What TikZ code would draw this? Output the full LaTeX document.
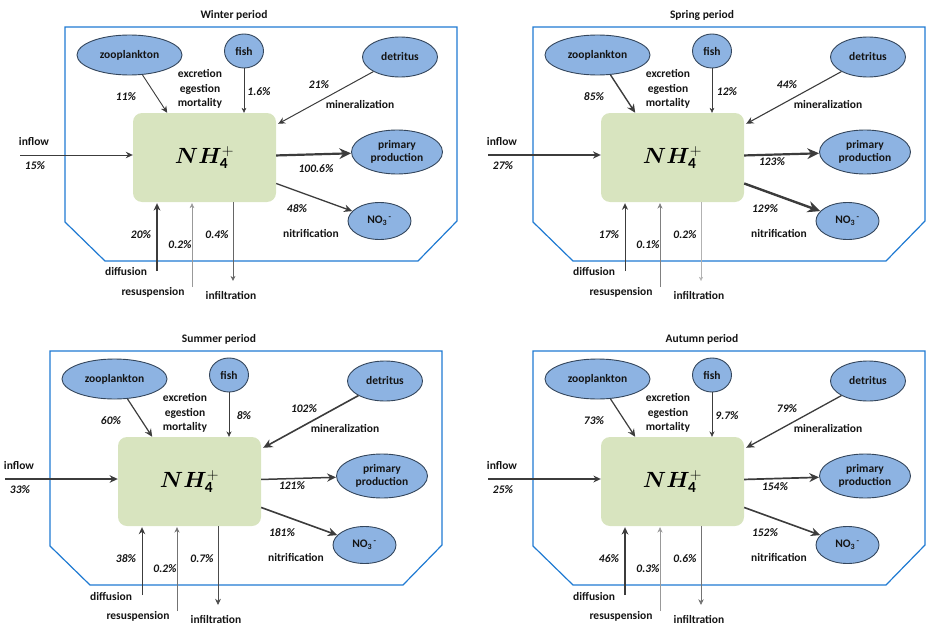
\documentclass[tikz,border=0pt]{standalone}
\usepackage{fix-cm}
\usepackage{fontspec}
\setmainfont{Carlito}
\usepackage{bm}
\usetikzlibrary{arrows.meta,shapes.geometric,calc}
\definecolor{ellfill}{HTML}{8DB3E2}
\definecolor{elldraw}{HTML}{34465C}
\definecolor{boxfill}{HTML}{D8E4BF}
\definecolor{framecol}{HTML}{1F7AD2}
\definecolor{arr}{HTML}{3C3C3C}
\definecolor{txt}{HTML}{141414}
\tikzset{
 compart/.style={ellipse, draw=elldraw, line width=0.9pt, fill=ellfill, inner sep=0pt, text=txt,
   font=\fontsize{11.5}{13}\selectfont\bfseries},
 lbl/.style={font=\fontsize{11.5}{14.5}\selectfont\bfseries, text=txt, inner sep=0pt},
 pct/.style={font=\fontsize{11.5}{14}\selectfont\bfseries\itshape, text=txt, inner sep=0pt},
 flow/.style={draw=arr, -{Stealth[length=3pt 4, width=3pt 3.5]}},
 nhbox/.style={fill=boxfill, rounded corners=9pt, minimum width=143pt, minimum height=89pt, inner sep=0pt},
 framebox/.style={draw=framecol, line width=1.2pt},
}
% values: \vIn \vZoo \vFish \vDet \vPP \vNO \vDif \vRes \vInf ; widths \w.. ; colours \cRes \cInf ; \ppPos
\newcommand\drawpanel[2]{%
 \draw[framebox] (65,27) -- (457,27) -- (457,221) -- (418,261) -- (105,261) -- (65,222) -- cycle;
 \node[lbl] (#1title) at (234,15) {#2};
 \node[nhbox] (#1box) at (204.5,157.5) {\fontsize{22}{24}\selectfont$\bm{NH}_{\mathbf{4}}^{\mathbf{+}}$};
 \node[compart, minimum width=105pt, minimum height=40pt] (#1zoo) at (129.5,55) {zooplankton};
 \node[compart, minimum width=39pt, minimum height=34pt] (#1fish) at (244,51) {fish};
 \node[compart, minimum width=75pt, minimum height=40pt] (#1det) at (400,57) {detritus};
 \node[compart, minimum width=91pt, minimum height=44pt, align=center] (#1pp) at (397,152) {primary\\production};
 \node[compart, minimum width=63pt, minimum height=37pt] (#1no) at (379.5,221) {NO\textsubscript{3}\textsuperscript{\,-}};
 \coordinate (#1zooend) at ($(#1box.north west)!0.24!(#1box.north east)$);
 \coordinate (#1detend) at ($(#1box.north east)+(2,11)$);
 \coordinate (#1in) at (20,155);
 \coordinate (#1dif) at (157,271);
 \coordinate (#1res) at (192,287);
 \coordinate (#1inf) at (233,281);
 \draw[flow, line width=\wZoo] (#1zoo) -- (#1zooend);
 \draw[flow, line width=\wFish] (#1fish) -- (#1fish |- #1box.north);
 \draw[flow, line width=\wDet] (#1det) -- (#1detend);
 \draw[flow, line width=\wPP] (#1box) -- (#1pp);
 \draw[flow, line width=\wNO] (#1box) -- (#1no);
 \draw[flow, line width=\wIn] (#1in) -- (#1in -| #1box.west);
 \draw[flow, line width=\wDif, shorten >=1pt] (#1dif) -- (#1dif |- #1box.south);
 \draw[flow, line width=\wRes, draw=\cRes, shorten >=1pt] (#1res) -- (#1res |- #1box.south);
 \draw[flow, line width=\wInf, draw=\cInf] (#1inf |- #1box.south) -- (#1inf);
 \node[lbl] (#1linflow) at (34,142) {inflow};
 \node[lbl, align=center] (#1lexc) at (200,89) {excretion\\egestion\\mortality};
 \node[lbl] (#1lmin) at (360,104) {mineralization};
 \node[lbl] (#1lnit) at (311,233) {nitrification};
 \node[lbl] (#1ldif) at (126,272) {diffusion};
 \node[lbl] (#1lres) at (153,292) {resuspension};
 \node[lbl] (#1linf) at (231,295) {infiltration};
 \node[pct] (#1pin) at (35,166) {\vIn};
 \node[pct] (#1pzoo) at (126,97) {\vZoo};
 \node[pct] (#1pfish) at (259,92) {\vFish};
 \node[pct] (#1pdet) at (319,85) {\vDet};
 \node[pct] (#1ppp) at \ppPos {\vPP};
 \node[pct] (#1pno) at (297,209) {\vNO};
 \node[pct] (#1pdif) at (141,235) {\vDif};
 \node[pct] (#1pres) at (180,245) {\vRes};
 \node[pct] (#1pinf) at (217,235) {\vInf};
}
\begin{document}
\begin{tikzpicture}[x=1pt,y=-1pt]
\useasboundingbox (0,0) rectangle (929,626);
% Winter
\begin{scope}
 \def\vIn{15\%}\def\vZoo{11\%}\def\vFish{1.6\%}\def\vDet{21\%}\def\vPP{100.6\%}\def\vNO{48\%}
 \def\vDif{20\%}\def\vRes{0.2\%}\def\vInf{0.4\%}\def\ppPos{(316,169)}
 \def\wIn{1pt}\def\wZoo{0.9pt}\def\wFish{0.5pt}\def\wDet{1pt}\def\wPP{2.2pt}\def\wNO{1.3pt}
 \def\wDif{1.1pt}\def\wRes{0.5pt}\def\wInf{0.5pt}\def\cRes{black!40}\def\cInf{black!60}
 \drawpanel{W}{Winter period}
\end{scope}
% Spring
\begin{scope}[shift={(468,0)}]
 \def\vIn{27\%}\def\vZoo{85\%}\def\vFish{12\%}\def\vDet{44\%}\def\vPP{123\%}\def\vNO{129\%}
 \def\vDif{17\%}\def\vRes{0.1\%}\def\vInf{0.2\%}\def\ppPos{(304,162)}
 \def\wIn{1.2pt}\def\wZoo{1.4pt}\def\wFish{0.5pt}\def\wDet{1.1pt}\def\wPP{2.2pt}\def\wNO{2.4pt}
 \def\wDif{0.9pt}\def\wRes{0.6pt}\def\wInf{0.3pt}\def\cRes{black!50}\def\cInf{black!30}
 \drawpanel{S}{Spring period}
\end{scope}
% Summer
\begin{scope}[shift={(-15,324)}]
 \def\vIn{33\%}\def\vZoo{60\%}\def\vFish{8\%}\def\vDet{102\%}\def\vPP{121\%}\def\vNO{181\%}
 \def\vDif{38\%}\def\vRes{0.2\%}\def\vInf{0.7\%}\def\ppPos{(307,162)}
 \def\wIn{1.3pt}\def\wZoo{1.2pt}\def\wFish{0.6pt}\def\wDet{1.6pt}\def\wPP{1.5pt}\def\wNO{1.6pt}
 \def\wDif{1pt}\def\wRes{0.6pt}\def\wInf{0.8pt}\def\cRes{black!55}\def\cInf{black!70}
 \drawpanel{U}{Summer period}
\end{scope}
% Autumn
\begin{scope}[shift={(468,324)}]
 \def\vIn{25\%}\def\vZoo{73\%}\def\vFish{9.7\%}\def\vDet{79\%}\def\vPP{154\%}\def\vNO{152\%}
 \def\vDif{46\%}\def\vRes{0.3\%}\def\vInf{0.6\%}\def\ppPos{(307,163)}
 \def\wIn{1.1pt}\def\wZoo{1.2pt}\def\wFish{0.6pt}\def\wDet{1.3pt}\def\wPP{1.7pt}\def\wNO{1.6pt}
 \def\wDif{1.1pt}\def\wRes{0.6pt}\def\wInf{0.7pt}\def\cRes{black!40}\def\cInf{black!55}
 \drawpanel{A}{Autumn period}
\end{scope}
\end{tikzpicture}
\end{document}
